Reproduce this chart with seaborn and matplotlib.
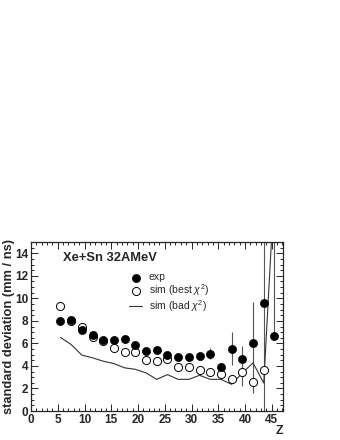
import numpy as np
import pandas as pd
import matplotlib
matplotlib.use('Agg')
import matplotlib.pyplot as plt
import seaborn as sns
from matplotlib.ticker import MultipleLocator

# Z bins (charge) and measured / simulated standard deviations
z = [5.5, 7.5, 9.5, 11.5, 13.5, 15.5, 17.5, 19.5, 21.5, 23.5, 25.5,
     27.5, 29.5, 31.5, 33.5, 35.5, 37.5, 39.5, 41.5, 43.5, 45.5]
exp_sd = [8.02, 8.05, 7.19, 6.74, 6.29, 6.29, 6.38, 5.82, 5.34, 5.40, 4.96,
          4.75, 4.75, 4.84, 5.10, 3.88, 5.52, 4.66, 6.00, 9.63, 6.65]
exp_err_lo = [0, 0, 0, 0, 0, 0, 0, 0, 0, 0, 0,
              0, 0, 0.15, 0.45, 0.35, 1.45, 1.1, 4.4, 12.0, 0.0]
exp_err_hi = [0, 0, 0, 0, 0, 0, 0, 0, 0, 0, 0,
              0, 0, 0.15, 0.45, 0.35, 1.45, 1.1, 3.7, 12.0, 12.0]

z_sim = [5.5, 7.5, 9.5, 11.5, 13.5, 15.5, 17.5, 19.5, 21.5, 23.5, 25.5,
         27.5, 29.5, 31.5, 33.5, 35.5, 37.5, 39.5, 41.5, 43.5]
best_sd = [9.33, 8.0, 7.48, 6.53, 6.23, 5.58, 5.22, 5.22, 4.57, 4.42, 4.60,
           3.91, 3.91, 3.68, 3.47, 3.26, 2.85, 3.44, 2.57, 3.65]
best_err = [0, 0, 0, 0, 0, 0, 0, 0, 0, 0, 0,
            0, 0, 0, 0, 0.2, 0.3, 1.2, 0.9, 0]

bad_sd = [6.53, 5.90, 4.96, 4.72, 4.42, 4.21, 3.83, 3.70, 3.38, 2.81, 3.23,
          2.81, 2.81, 3.17, 2.81, 2.81, 2.37, 3.38, 4.27, 2.48, 20.0]

exp_df = pd.DataFrame({'Z': z, 'sd': exp_sd})
best_df = pd.DataFrame({'Z': z_sim, 'sd': best_sd})
bad_df = pd.DataFrame({'Z': z, 'sd': bad_sd})

sns.set_style('ticks')
plt.rcParams['font.family'] = ['Liberation Sans', 'DejaVu Sans']
plt.rcParams['mathtext.fontset'] = 'custom'
plt.rcParams['mathtext.rm'] = 'Liberation Sans'
plt.rcParams['mathtext.it'] = 'Liberation Sans:italic'

fig = plt.figure(figsize=(3.4, 4.4), dpi=100)
ax = fig.add_axes([0.0912, 0.0659, 0.7412, 0.3841])

# error bars first, under the markers
ax.errorbar(z, exp_sd, yerr=[exp_err_lo, exp_err_hi], fmt='none',
            ecolor='#555555', elinewidth=0.8, capsize=0, zorder=2)
ax.errorbar(z_sim, best_sd, yerr=best_err, fmt='none',
            ecolor='#555555', elinewidth=0.8, capsize=0, zorder=2)

sns.lineplot(data=bad_df, x='Z', y='sd', ax=ax, color='#333333',
             linewidth=0.8, label=r'sim (bad $\chi^2$)', zorder=3)
sns.scatterplot(data=best_df, x='Z', y='sd', ax=ax, marker='o', s=34,
                facecolor='white', edgecolor='black', linewidth=0.7,
                label=r'sim (best $\chi^2$)', zorder=4)
sns.scatterplot(data=exp_df, x='Z', y='sd', ax=ax, marker='o', s=34,
                color='black', edgecolor='black', linewidth=0.5,
                label='exp', zorder=5)

ax.set_xlim(0, 47.1)
ax.set_ylim(0, 15)
ax.xaxis.set_major_locator(MultipleLocator(5))
ax.xaxis.set_minor_locator(MultipleLocator(1))
ax.yaxis.set_major_locator(MultipleLocator(2))
ax.yaxis.set_minor_locator(MultipleLocator(0.5))
ax.tick_params(which='both', direction='in', top=True, right=True,
               labelsize=8.5, width=0.7, pad=2)
ax.tick_params(which='major', length=5)
ax.tick_params(which='minor', length=2.5)
for lab in ax.get_xticklabels() + ax.get_yticklabels():
    lab.set_fontweight('bold')
for sp in ax.spines.values():
    sp.set_linewidth(0.9)

ax.set_xlabel('')
ax.set_ylabel('standard deviation (mm / ns)', fontsize=9.3, fontweight='bold',
              labelpad=0)
fig.text(0.832, 0.034, 'Z', ha='right', va='top', fontsize=9,
         fontweight='bold')
ax.text(0.125, 0.905, 'Xe+Sn 32AMeV', transform=ax.transAxes, fontsize=9.3,
        fontweight='bold', va='center')

h, l = ax.get_legend_handles_labels()
order = [l.index('exp'), l.index(r'sim (best $\chi^2$)'),
         l.index(r'sim (bad $\chi^2$)')]
ax.legend([h[i] for i in order], [l[i] for i in order], loc='upper left',
          bbox_to_anchor=(0.39, 0.82), frameon=False, fontsize=7.5,
          handlelength=1.25, handletextpad=0.6, labelspacing=0.0,
          borderaxespad=0, borderpad=0)

fig.savefig('out.png', dpi=100)
